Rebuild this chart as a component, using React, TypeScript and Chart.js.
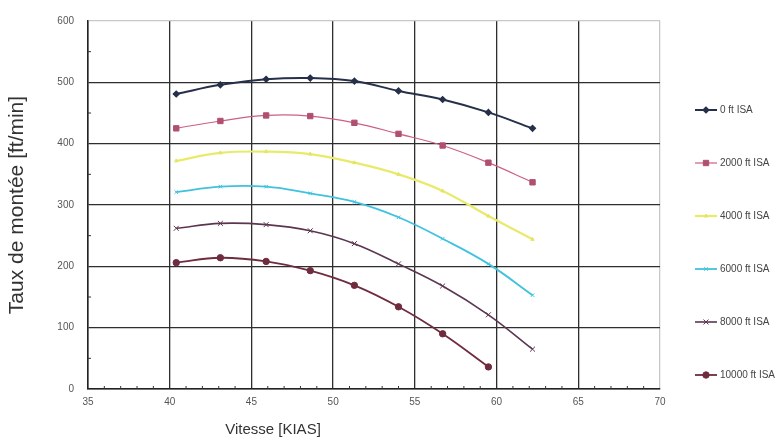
import React, { useEffect, useRef } from "react";
import { Chart, registerables } from "chart.js";
import { drawPoint } from "chart.js/helpers";

Chart.register(...registerables);

// ---- data ----
const speeds = [40.4, 43.1, 45.9, 48.6, 51.3, 54.0, 56.7, 59.5, 62.2];
const seriesLabels = ["0 ft ISA", "2000 ft ISA", "4000 ft ISA", "6000 ft ISA", "8000 ft ISA", "10000 ft ISA"];
const climb0 = [481, 496, 505, 507, 502, 486, 472, 451, 425];
const climb2000 = [425, 437, 446, 445, 434, 416, 397, 369, 337];
const climb4000 = [372, 385, 387, 383, 369, 350, 323, 282, 244];
const climb6000 = [321, 330, 330, 319, 305, 280, 245, 204, 153];
const climb8000 = [262, 270, 268, 258, 237, 204, 168, 121, 65];
const climb10000 = [206, 214, 208, 193, 169, 134, 90, 36];
const xTicks = [35, 40, 45, 50, 55, 60, 65, 70];
const yTicks = [0, 100, 200, 300, 400, 500, 600];
const xMinorTicks = [36, 37, 38, 39, 41, 42, 43, 44, 46, 47, 48, 49, 51, 52, 53, 54, 56, 57, 58, 59, 61, 62, 63, 64, 66, 67, 68, 69];
const yMinorTicks = [50, 150, 250, 350, 450, 550];
const xTitle = "Vitesse [KIAS]";
const yTitle = "Taux de montée [ft/min]";

const seriesValues = [climb0, climb2000, climb4000, climb6000, climb8000, climb10000];
const seriesStyles = [
  { color: "#26304a", width: 2, point: "rectRot", radius: 3, fill: "#26304a", bw: 1.2 },
  { color: "#cc5f88", width: 1.2, point: "rect", radius: 3.8, fill: "#b0506e", bw: 1 },
  { color: "#e9ea6a", width: 2.2, point: "triangle", radius: 2, fill: "#e4e46a", bw: 1 },
  { color: "#3fc2df", width: 1.8, point: "crossRot", radius: 2.5, fill: "#3fc2df", bw: 1 },
  { color: "#5c3650", width: 1.6, point: "crossRot", radius: 3.5, fill: "#5c3650", bw: 1 },
  { color: "#6e2c3e", width: 1.8, point: "circle", radius: 3.2, fill: "#6e2c3e", bw: 1 },
];

const FONT = "'Liberation Sans', Arial, sans-serif";

const extrasPlugin = {
  id: "extras",
  afterDraw(chart: any) {
    const ctx = chart.ctx;
    const xs = chart.scales.x;
    const ys = chart.scales.y;
    const y0 = ys.getPixelForValue(0);
    const x0 = xs.getPixelForValue(35);
    ctx.save();
    // minor ticks
    ctx.strokeStyle = "#333";
    ctx.lineWidth = 1;
    ctx.beginPath();
    xMinorTicks.forEach((v) => {
      const px = xs.getPixelForValue(v);
      ctx.moveTo(px, y0);
      ctx.lineTo(px, y0 - 3);
    });
    yMinorTicks.forEach((v) => {
      const py = ys.getPixelForValue(v);
      ctx.moveTo(x0, py);
      ctx.lineTo(x0 + 3, py);
    });
    ctx.stroke();

    // x title
    ctx.fillStyle = "#333";
    ctx.font = `15px ${FONT}`;
    ctx.textAlign = "center";
    ctx.textBaseline = "middle";
    ctx.fillText(xTitle, 273, 430);

    // legend
    ctx.font = `10px ${FONT}`;
    ctx.textAlign = "left";
    chart.data.datasets.forEach((ds: any, i: number) => {
      const y = 110 + i * 53;
      ctx.strokeStyle = ds.borderColor;
      ctx.lineWidth = ds.borderWidth;
      ctx.beginPath();
      ctx.moveTo(695, y);
      ctx.lineTo(717, y);
      ctx.stroke();
      ctx.fillStyle = ds.pointBackgroundColor;
      ctx.strokeStyle = ds.pointBorderColor;
      ctx.lineWidth = ds.pointBorderWidth;
      drawPoint(ctx, { pointStyle: ds.pointStyle, radius: ds.pointRadius, rotation: 0, borderWidth: ds.pointBorderWidth }, 706, y);
      ctx.fillStyle = "#444";
      ctx.fillText(ds.label, 720, y);
    });
    ctx.restore();
  },
};

export default function App() {
  const ref = useRef<HTMLCanvasElement | null>(null);
  useEffect(() => {
    if (!ref.current) return;
    const datasets = seriesValues.map((vals, i) => {
      const st = seriesStyles[i];
      return {
        label: seriesLabels[i],
        data: vals.map((v, j) => ({ x: speeds[j], y: v })),
        borderColor: st.color,
        borderWidth: st.width,
        pointStyle: st.point,
        pointRadius: st.radius,
        pointBackgroundColor: st.fill,
        pointBorderColor: st.fill,
        pointBorderWidth: st.bw,
        tension: 0.4,
        fill: false,
      };
    });
    const chart = new Chart(ref.current, {
      type: "line",
      data: { datasets },
      plugins: [extrasPlugin],
      options: {
        responsive: false,
        animation: false,
        devicePixelRatio: 1,
        layout: { padding: { top: 21, right: 121, left: 0, bottom: 0 } },
        plugins: { legend: { display: false }, tooltip: { enabled: false } },
        scales: {
          x: {
            type: "linear",
            min: 35,
            max: 70,
            afterBuildTicks: (s: any) => {
              s.ticks = xTicks.map((v) => ({ value: v }));
            },
            afterFit: (s: any) => {
              s.height = 58;
            },
            grid: {
              color: (c: any) => (c.tick && c.tick.value === 70 ? "#c8c8c8" : "#2e2e2e"),
              lineWidth: 1.3,
              drawTicks: false,
            },
            border: { display: true, color: "#222", width: 1.5 },
            ticks: { padding: 7, color: "#555", font: { size: 10, family: FONT } },
          },
          y: {
            type: "linear",
            min: 0,
            max: 600,
            afterBuildTicks: (s: any) => {
              s.ticks = yTicks.map((v) => ({ value: v }));
            },
            afterFit: (s: any) => {
              s.width = 88;
            },
            grid: {
              color: (c: any) => (c.tick && c.tick.value === 600 ? "#c8c8c8" : "#2e2e2e"),
              lineWidth: 1.3,
              drawTicks: false,
            },
            border: { display: true, color: "#222", width: 1.5 },
            ticks: { padding: 14, color: "#555", font: { size: 10, family: FONT } },
            title: {
              display: true,
              text: yTitle,
              color: "#333",
              font: { size: 21, family: FONT },
              padding: { top: 5, bottom: 0 },
            },
          },
        },
      },
    });
    return () => chart.destroy();
  }, []);
  return (
    <div style={{ position: "fixed", left: 0, top: 0, width: 781, height: 447, background: "#fff" }}>
      <canvas ref={ref} width={781} height={447} style={{ display: "block" }} />
    </div>
  );
}
